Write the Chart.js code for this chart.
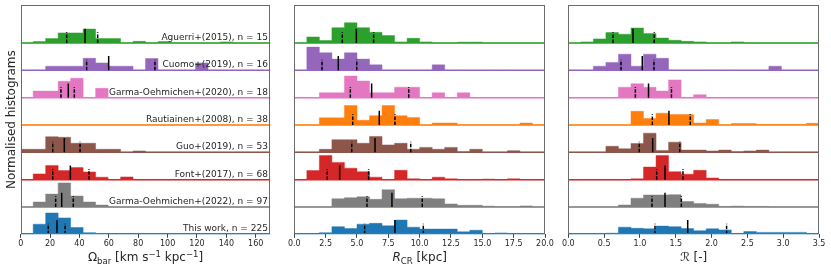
<!DOCTYPE html>
<html>
<head>
<meta charset="utf-8">
<script src="https://cdn.jsdelivr.net/npm/chart.js@4"></script>
<style>
    body { margin: 0; background: #fff; }
    #wrap { position: relative; width: 831px; height: 271px; overflow: hidden; }
    canvas { position: absolute; top: 0; }
</style>
</head>
<body>
<div id="wrap">
    <canvas id="omegaChart" width="280" height="271" style="left:0"></canvas>
    <canvas id="rcrChart" width="280" height="271" style="left:280px"></canvas>
    <canvas id="ratioChart" width="276" height="271" style="left:555px"></canvas>
</div>
<script>
// rows from bottom (y = 0) to top (y = 7)
const surveys = ['This work', 'Garma-Oehmichen+(2022)', 'Font+(2017)', 'Guo+(2019)',
    'Rautiainen+(2008)', 'Garma-Oehmichen+(2020)', 'Cuomo+(2019)', 'Aguerri+(2015)'];
const sampleSizes = [225, 97, 68, 53, 38, 18, 16, 15];
const colours = ['#1f77b4', '#7f7f7f', '#d62728', '#8c564b', '#ff7f0e', '#e377c2', '#9467bd', '#2ca02c'];

// normalised histogram heights, 20 bins per panel
const omegaRange = [0, 170];
const omegaHist = [
    [0, 0.37, 0.78, 0.6, 0.25, 0.06, 0.03, 0, 0, 0, 0, 0, 0, 0, 0, 0, 0, 0, 0, 0],
    [0, 0.18, 0.47, 0.88, 0.4, 0.18, 0.07, 0, 0, 0, 0, 0, 0, 0, 0, 0, 0, 0, 0, 0],
    [0, 0.21, 0.52, 0.33, 0.44, 0.28, 0.09, 0, 0.1, 0, 0, 0, 0, 0, 0, 0, 0, 0, 0, 0],
    [0.11, 0.11, 0.57, 0.55, 0.33, 0.33, 0.11, 0.11, 0, 0.05, 0, 0, 0, 0, 0, 0, 0, 0, 0, 0],
    [0, 0, 0, 0, 0, 0, 0, 0, 0, 0, 0, 0, 0, 0, 0, 0, 0, 0, 0, 0],
    [0, 0.24, 0.24, 0.6, 0.71, 0, 0.34, 0, 0, 0, 0, 0, 0, 0, 0, 0, 0, 0, 0, 0],
    [0, 0, 0.15, 0.15, 0.15, 0.44, 0.27, 0.15, 0.15, 0, 0.43, 0, 0, 0, 0.27, 0, 0, 0, 0, 0],
    [0, 0.05, 0.16, 0.37, 0.37, 0.51, 0.16, 0.16, 0, 0.06, 0, 0.05, 0, 0, 0, 0, 0.04, 0, 0, 0]
];
// 16th, 50th, 84th percentiles
const omegaPct = [[18.8, 24.7, 30.2], [23.8, 27.9, 35.8], [21.8, 33.8, 46.5], [21.8, 29.7, 40.4],
    null, [27.4, 32.4, 36.5], [44.9, 59.9, 91.4], [31.3, 43.8, 52.4]];

const rcrRange = [0, 20];
const rcrHist = [
    [0, 0, 0.06, 0.28, 0.21, 0.37, 0.4, 0.31, 0.52, 0.26, 0.19, 0.19, 0.19, 0.09, 0.15, 0, 0.05, 0, 0, 0],
    [0, 0, 0, 0.3, 0.34, 0.37, 0.28, 0.63, 0.3, 0.32, 0.32, 0.3, 0.11, 0.06, 0.06, 0.03, 0.01, 0.01, 0.04, 0],
    [0, 0.33, 0.88, 0.63, 0.42, 0.29, 0.09, 0, 0.34, 0.03, 0, 0.09, 0.03, 0, 0, 0.02, 0, 0.03, 0, 0],
    [0, 0, 0.11, 0.46, 0.46, 0.33, 0.58, 0.27, 0.33, 0.11, 0.18, 0.11, 0.18, 0.02, 0.11, 0, 0, 0.06, 0, 0],
    [0, 0, 0.26, 0.26, 0.71, 0.17, 0.34, 0.71, 0.34, 0.27, 0, 0.07, 0.07, 0, 0, 0, 0, 0, 0.07, 0],
    [0, 0, 0.18, 0.18, 0.79, 0.61, 0.18, 0.18, 0.38, 0.38, 0, 0.18, 0, 0.18, 0, 0, 0, 0, 0, 0],
    [0, 0.85, 0.64, 0.41, 0.64, 0.41, 0.2, 0, 0, 0, 0, 0.2, 0, 0, 0, 0, 0, 0, 0, 0],
    [0, 0.22, 0.09, 0.56, 0.74, 0.56, 0.39, 0.27, 0.04, 0.17, 0.04, 0, 0, 0.03, 0.03, 0, 0, 0, 0, 0]
];
const rcrPct = [[5.61, 8.03, 10.29], [5.8, 7.79, 10.21], [2.63, 3.62, 5.93], [4.58, 6.44, 9.29],
    [4.66, 6.78, 8.03], [4.47, 6.17, 9.13], [2.21, 3.51, 4.98], [3.83, 4.95, 6.33]];

const ratioRange = [0, 3.5];
const ratioHist = [
    [0, 0, 0, 0.04, 0.26, 0.22, 0.2, 0.3, 0.28, 0.21, 0.13, 0.2, 0.16, 0.02, 0.1, 0.07, 0.07, 0.07, 0.07, 0],
    [0, 0, 0, 0, 0.07, 0.32, 0.44, 0.44, 0.45, 0.2, 0.13, 0.1, 0.02, 0.03, 0.02, 0.02, 0, 0, 0, 0],
    [0, 0, 0, 0, 0, 0.03, 0.46, 0.88, 0.29, 0.2, 0.34, 0.06, 0, 0, 0, 0, 0, 0, 0, 0],
    [0, 0, 0, 0.22, 0.13, 0.32, 0.7, 0.07, 0.37, 0.08, 0.08, 0.05, 0.08, 0.02, 0.05, 0.08, 0, 0, 0, 0],
    [0, 0, 0, 0, 0, 0.5, 0.24, 0.43, 0.38, 0.38, 0.07, 0.2, 0, 0.05, 0.05, 0.02, 0.02, 0.02, 0.02, 0.06],
    [0, 0, 0, 0, 0.38, 0.51, 0.38, 0.24, 0.65, 0, 0.11, 0, 0, 0, 0, 0, 0, 0, 0, 0],
    [0, 0, 0.15, 0.29, 0.59, 0.15, 0.59, 0.44, 0, 0, 0, 0, 0, 0, 0, 0, 0.15, 0, 0, 0],
    [0, 0.04, 0.15, 0.38, 0.32, 0.55, 0.35, 0.18, 0.1, 0.06, 0.04, 0, 0, 0.04, 0, 0, 0, 0, 0, 0]
];
const ratioPct = [[1.21, 1.667, 2.21], [1.168, 1.35, 1.578], [1.234, 1.35, 1.601], [0.991, 1.178, 1.555],
    [1.173, 1.405, 1.703], [0.936, 1.12, 1.44], [0.736, 1.033, 1.196], [0.624, 0.903, 1.2]];

const omegaTicks = [0, 20, 40, 60, 80, 100, 120, 140, 160];
const rcrTicks = [0, 2.5, 5, 7.5, 10, 12.5, 15, 17.5, 20];
const ratioTicks = [0, 0.5, 1, 1.5, 2, 2.5, 3, 3.5];

const FONT = 'DejaVu Sans';
const TEXT = '#262626';

function hexAlpha(hex, a) {
    const n = parseInt(hex.slice(1), 16);
    return `rgba(${n >> 16}, ${(n >> 8) & 255}, ${n & 255}, ${a})`;
}

function drawRich(ctx, parts, cx, y) {
    const fontOf = p => p.s === 'i' ? `italic 12px ${FONT}` : (p.s === 'b' || p.s === 'p') ? `8.5px ${FONT}` : `12px ${FONT}`;
    let total = 0;
    parts.forEach(p => { ctx.font = fontOf(p); p.w = ctx.measureText(p.t).width; total += p.w; });
    let x = cx - total / 2;
    ctx.textAlign = 'left';
    ctx.textBaseline = 'alphabetic';
    parts.forEach(p => {
        ctx.font = fontOf(p);
        const dy = p.s === 'b' ? 2.5 : p.s === 'p' ? -4.5 : 0;
        ctx.fillText(p.t, x, y + dy);
        x += p.w;
    });
}

const panelDecor = {
    id: 'panelDecor',
    afterDraw(chart, args, opts) {
        const {ctx, chartArea: a, scales: {y}} = chart;
        ctx.save();
        ctx.strokeStyle = '#6b6b6b';
        ctx.lineWidth = 1;
        const l = Math.round(a.left) + 0.5, r = Math.round(a.right) - 0.5;
        const t = Math.round(a.top) + 0.5, b = Math.round(a.bottom) - 0.5;
        ctx.strokeRect(l, t, r - l, b - t);

        ctx.fillStyle = TEXT;
        if (opts.rowLabels) {
            ctx.font = `9px ${FONT}`;
            ctx.textAlign = 'right';
            ctx.textBaseline = 'alphabetic';
            surveys.forEach((s, i) => {
                ctx.fillText(`${s}, n = ${sampleSizes[i]}`, a.right - 2.5, y.getPixelForValue(i) - 3);
            });
            ctx.save();
            ctx.translate(15, (a.top + a.bottom) / 2);
            ctx.rotate(-Math.PI / 2);
            ctx.font = `12px ${FONT}`;
            ctx.textAlign = 'center';
            ctx.fillText('Normalised histograms', 0, 0);
            ctx.restore();
        }
        drawRich(ctx, opts.title, (a.left + a.right) / 2, 261);
        ctx.restore();
    }
};

function buildPanel(canvasId, hist, pct, range, ticks, decimals, padLeft, padRight, title, rowLabels) {
    const [lo, hi] = range;
    const datasets = [];
    hist.forEach((h, i) => {
        const w = (hi - lo) / h.length;
        const pts = h.map((v, k) => ({x: lo + k * w, y: i + v}));
        pts.push({x: hi, y: i + h[h.length - 1]});
        datasets.push({
            data: pts,
            stepped: true,
            fill: {value: i},
            backgroundColor: colours[i],
            borderColor: hexAlpha(colours[i], 0.45),
            borderWidth: 1,
            order: 2
        });
        datasets.push({
            data: [{x: lo, y: i}, {x: hi, y: i}],
            borderColor: colours[i],
            borderWidth: 1.5,
            fill: false,
            order: 1
        });
        if (pct[i]) {
            pct[i].forEach((v, j) => {
                const median = j === 1;
                datasets.push({
                    data: [{x: v, y: i}, {x: v, y: i + (median ? 0.52 : 0.39)}],
                    borderColor: '#000',
                    borderWidth: 1.5,
                    borderDash: median ? [] : [3.5, 1.5],
                    fill: false,
                    order: 0
                });
            });
        }
    });

    return new Chart(document.getElementById(canvasId), {
        type: 'line',
        data: {datasets},
        options: {
            responsive: false,
            animation: false,
            events: [],
            layout: {padding: {left: padLeft, right: padRight, top: 5, bottom: 24.7}},
            elements: {point: {radius: 0}, line: {tension: 0}},
            plugins: {
                legend: {display: false},
                tooltip: {enabled: false},
                panelDecor: {title, rowLabels}
            },
            scales: {
                x: {
                    type: 'linear',
                    min: lo,
                    max: hi,
                    afterBuildTicks: s => { s.ticks = ticks.map(v => ({value: v})); },
                    afterFit: s => { s.height = 12; },
                    ticks: {
                        callback: v => v.toFixed(decimals),
                        font: {family: FONT, size: 8},
                        color: TEXT,
                        padding: 1,
                        maxRotation: 0,
                        autoSkip: false
                    },
                    grid: {drawOnChartArea: false, drawTicks: true, tickLength: 3.5, color: '#444'},
                    border: {display: false}
                },
                y: {display: false, min: 0, max: 8.39}
            }
        },
        plugins: [panelDecor]
    });
}

buildPanel('omegaChart', omegaHist, omegaPct, omegaRange, omegaTicks, 0, 20.7, 9.6,
    [{t: 'Ω', s: 'n'}, {t: 'bar', s: 'b'}, {t: ' [km s', s: 'n'}, {t: '−1', s: 'p'},
     {t: ' kpc', s: 'n'}, {t: '−1', s: 'p'}, {t: ']', s: 'n'}], true);
buildPanel('rcrChart', rcrHist, rcrPct, rcrRange, rcrTicks, 1, 14.3, 15,
    [{t: 'R', s: 'i'}, {t: 'CR', s: 'b'}, {t: ' [kpc]', s: 'n'}], false);
buildPanel('ratioChart', ratioHist, ratioPct, ratioRange, ratioTicks, 1, 13.3, 12,
    [{t: 'ℛ', s: 'n'}, {t: ' [-]', s: 'n'}], false);
</script>
</body>
</html>
